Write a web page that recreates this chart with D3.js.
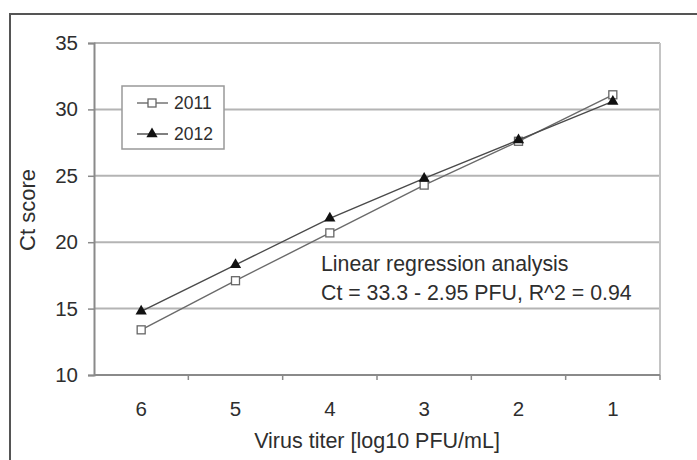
<!DOCTYPE html>
<html>
<head>
<meta charset="utf-8">
<script src="https://cdn.jsdelivr.net/npm/d3@7"></script>
<style>
  html, body { margin: 0; padding: 0; background: #fff; }
  svg { display: block; font-family: "Liberation Sans", Arial, sans-serif; }
</style>
</head>
<body>
<svg id="chart" width="697" height="460"></svg>
<script>
// values
const titers = ['6', '5', '4', '3', '2', '1'];
const ct2011 = [13.4, 17.1, 20.7, 24.3, 27.6, 31.1];
const ct2012 = [14.8, 18.3, 21.8, 24.8, 27.7, 30.6];
const yTicks = [10, 15, 20, 25, 30, 35];
const seriesNames = ['2011', '2012'];
const noteLines = ['Linear regression analysis', 'Ct = 33.3 - 2.95 PFU, R^2 = 0.94'];

(() => {
  let svg;
  let x;
  let y;
  let plot;
  let series;
  let legend;
  let box = { left: 94, right: 660, top: 43, bottom: 375 };
  let ink = '#2e2e2e';

  svg = d3.select('#chart');

  // outer frame, runs off the right and bottom edges
  svg.append('path')
    .attr('d', 'M10,470 L10,14 L710,14')
    .attr('fill', 'none')
    .attr('stroke', '#555')
    .attr('stroke-width', 2);

  x = d3.scaleBand().domain(titers).range([box.left, box.right]).padding(0);
  y = d3.scaleLinear().domain([10, 35]).range([box.bottom, box.top]);

  plot = svg.append('g');

  // gridlines
  plot.selectAll('line.grid')
    .data(yTicks.filter(d => d > 10))
    .enter()
    .append('line')
    .attr('class', 'grid')
    .attr('x1', box.left)
    .attr('x2', box.right)
    .attr('y1', d => y(d))
    .attr('y2', d => y(d))
    .attr('stroke', '#b4b4b4')
    .attr('stroke-width', 2);

  plot.append('line')
    .attr('x1', box.right).attr('x2', box.right)
    .attr('y1', box.top).attr('y2', box.bottom)
    .attr('stroke', '#c4c4c4')
    .attr('stroke-width', 2);

  // y axis
  const yAxis = svg.append('g')
    .attr('transform', `translate(${box.left},0)`)
    .call(d3.axisLeft(y).tickValues(yTicks).tickSize(6).tickPadding(10));
  yAxis.select('.domain').attr('stroke', '#8a8a8a').attr('stroke-width', 2);
  yAxis.selectAll('.tick line').attr('stroke', '#8a8a8a').attr('stroke-width', 1.5);
  yAxis.selectAll('.tick text')
    .attr('font-size', 20.5)
    .attr('font-family', '"Liberation Sans", Arial, sans-serif')
    .attr('fill', ink);

  // x axis: ticks sit between the categories
  const xAxis = svg.append('g')
    .attr('transform', `translate(0,${box.bottom})`);
  xAxis.append('line')
    .attr('x1', box.left).attr('x2', box.right)
    .attr('y1', 0).attr('y2', 0)
    .attr('stroke', '#8a8a8a')
    .attr('stroke-width', 2);
  xAxis.selectAll('line.tk')
    .data(titers)
    .enter()
    .append('line')
    .attr('class', 'tk')
    .attr('x1', d => x(d) + x.bandwidth())
    .attr('x2', d => x(d) + x.bandwidth())
    .attr('y1', 0)
    .attr('y2', 5)
    .attr('stroke', '#8a8a8a')
    .attr('stroke-width', 1.5);
  xAxis.selectAll('text')
    .data(titers)
    .enter()
    .append('text')
    .attr('x', d => x(d) + x.bandwidth() / 2)
    .attr('y', 41)
    .attr('text-anchor', 'middle')
    .attr('font-size', 20.5)
    .attr('fill', ink)
    .text(d => d);

  // axis titles
  svg.append('text')
    .attr('x', 377)
    .attr('y', 448)
    .attr('text-anchor', 'middle')
    .attr('font-size', 21.5)
    .attr('fill', ink)
    .text('Virus titer [log10 PFU/mL]');

  svg.append('text')
    .attr('transform', 'translate(35,210) rotate(-90)')
    .attr('text-anchor', 'middle')
    .attr('font-size', 22)
    .attr('fill', ink)
    .text('Ct score');

  // series
  series = [
    { name: seriesNames[0], values: ct2011, stroke: '#6a6a6a', shape: 'square' },
    { name: seriesNames[1], values: ct2012, stroke: '#4a4a4a', shape: 'triangle' }
  ];

  const cx = d => x(d) + x.bandwidth() / 2;
  const line = d3.line().x(d => cx(d.t)).y(d => y(d.v));

  const drawMarker = (sel, shape) => {
    if (shape === 'square') {
      sel.append('rect')
        .attr('x', -4).attr('y', -4)
        .attr('width', 8).attr('height', 8)
        .attr('fill', '#fff')
        .attr('stroke', '#666')
        .attr('stroke-width', 1.3);
    } else {
      sel.append('path')
        .attr('d', d3.symbol(d3.symbolTriangle, 55)())
        .attr('fill', '#111');
    }
  };

  series.forEach(s => {
    const pts = titers.map((t, i) => ({ t: t, v: s.values[i] }));
    plot.append('path')
      .datum(pts)
      .attr('d', line)
      .attr('fill', 'none')
      .attr('stroke', s.stroke)
      .attr('stroke-width', 1.4);
    plot.selectAll(null)
      .data(pts)
      .enter()
      .append('g')
      .attr('transform', d => `translate(${cx(d.t)},${y(d.v)})`)
      .each(function() {
        drawMarker(d3.select(this), s.shape);
      });
  });

  // legend
  legend = svg.append('g').attr('transform', 'translate(122,86)');
  legend.append('rect')
    .attr('width', 102)
    .attr('height', 63)
    .attr('fill', '#fff')
    .attr('stroke', '#999')
    .attr('stroke-width', 1.5);
  series.forEach((s, i) => {
    const row = legend.append('g').attr('transform', `translate(0,${17 + i * 31})`);
    row.append('line')
      .attr('x1', 15).attr('x2', 46)
      .attr('y1', 0).attr('y2', 0)
      .attr('stroke', s.stroke)
      .attr('stroke-width', 1.4);
    drawMarker(row.append('g').attr('transform', 'translate(30,0)'), s.shape);
    row.append('text')
      .attr('x', 52)
      .attr('y', 6)
      .attr('font-size', 17.5)
      .attr('fill', ink)
      .text(s.name);
  });

  // regression note
  svg.append('g')
    .selectAll('text')
    .data(noteLines)
    .enter()
    .append('text')
    .attr('x', 321)
    .attr('y', (d, i) => 271 + i * 29)
    .attr('font-size', 21.3)
    .attr('fill', ink)
    .text(d => d);
})();
</script>
</body>
</html>
